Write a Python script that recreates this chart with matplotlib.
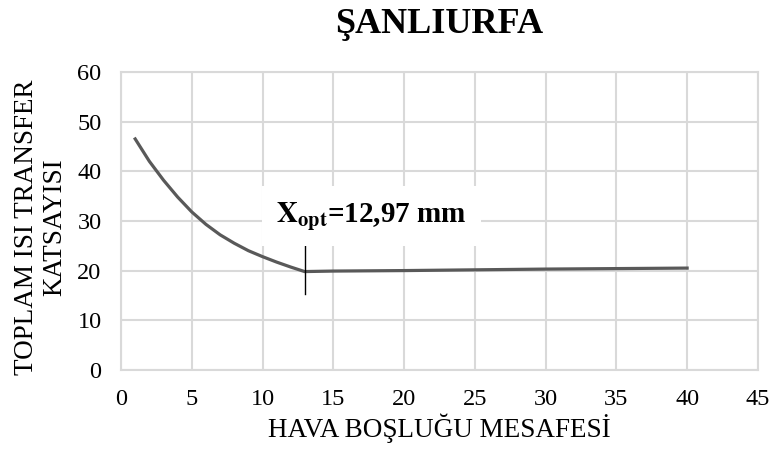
import matplotlib.pyplot as plt

plt.rcParams["font.family"] = ["Liberation Serif", "DejaVu Serif"]
plt.rcParams["mathtext.fontset"] = "stix"

# air gap distance (mm) and total heat transfer coefficient
gap = [1, 2, 3, 4, 5, 6, 7, 8, 9, 10, 11, 12, 12.97, 15, 20, 25, 30, 35, 40]
u_value = [46.5, 42.0, 38.2, 34.8, 31.8, 29.3, 27.2, 25.5, 24.0, 22.8, 21.7, 20.7, 19.8,
           19.9, 20.0, 20.15, 20.3, 20.4, 20.5]
x_opt = 12.97
opt_label = r"$\mathbf{X_{opt}}$=12,97 mm"

fig, ax = plt.subplots(figsize=(7.71, 4.55), dpi=100)
fig.subplots_adjust(left=0.157, right=0.983, top=0.842, bottom=0.187)

ax.plot(gap, u_value, color="#595959", lw=2.3, zorder=3)
ax.plot([x_opt, x_opt], [15.3, 25.7], color="black", lw=1, zorder=4)

ax.set_xlim(0, 45)
ax.set_ylim(0, 60)
ax.set_xticks(range(0, 46, 5))
ax.set_yticks(range(0, 61, 10))
ax.grid(True, color="#d9d9d9", lw=1.5)
ax.set_axisbelow(True)
for s in ax.spines.values():
    s.set_color("#d9d9d9")
    s.set_linewidth(1.5)
ax.tick_params(length=0, labelsize=17.5, pad=14)

ax.text(17.7, 31, opt_label, fontsize=21, fontweight="bold", ha="center", va="center",
        bbox=dict(facecolor="white", edgecolor="none", pad=10), zorder=5)

ax.set_xlabel("HAVA BOŞLUĞU MESAFESİ", fontsize=19.5, labelpad=2)
ax.set_ylabel("TOPLAM ISI TRANSFER\nKATSAYISI", fontsize=19.5, linespacing=1.2)
ax.yaxis.set_label_coords(-0.084, 0.48)
ax.set_title("ŞANLIURFA", fontsize=26, fontweight="bold", pad=28)

plt.savefig("out.png")
